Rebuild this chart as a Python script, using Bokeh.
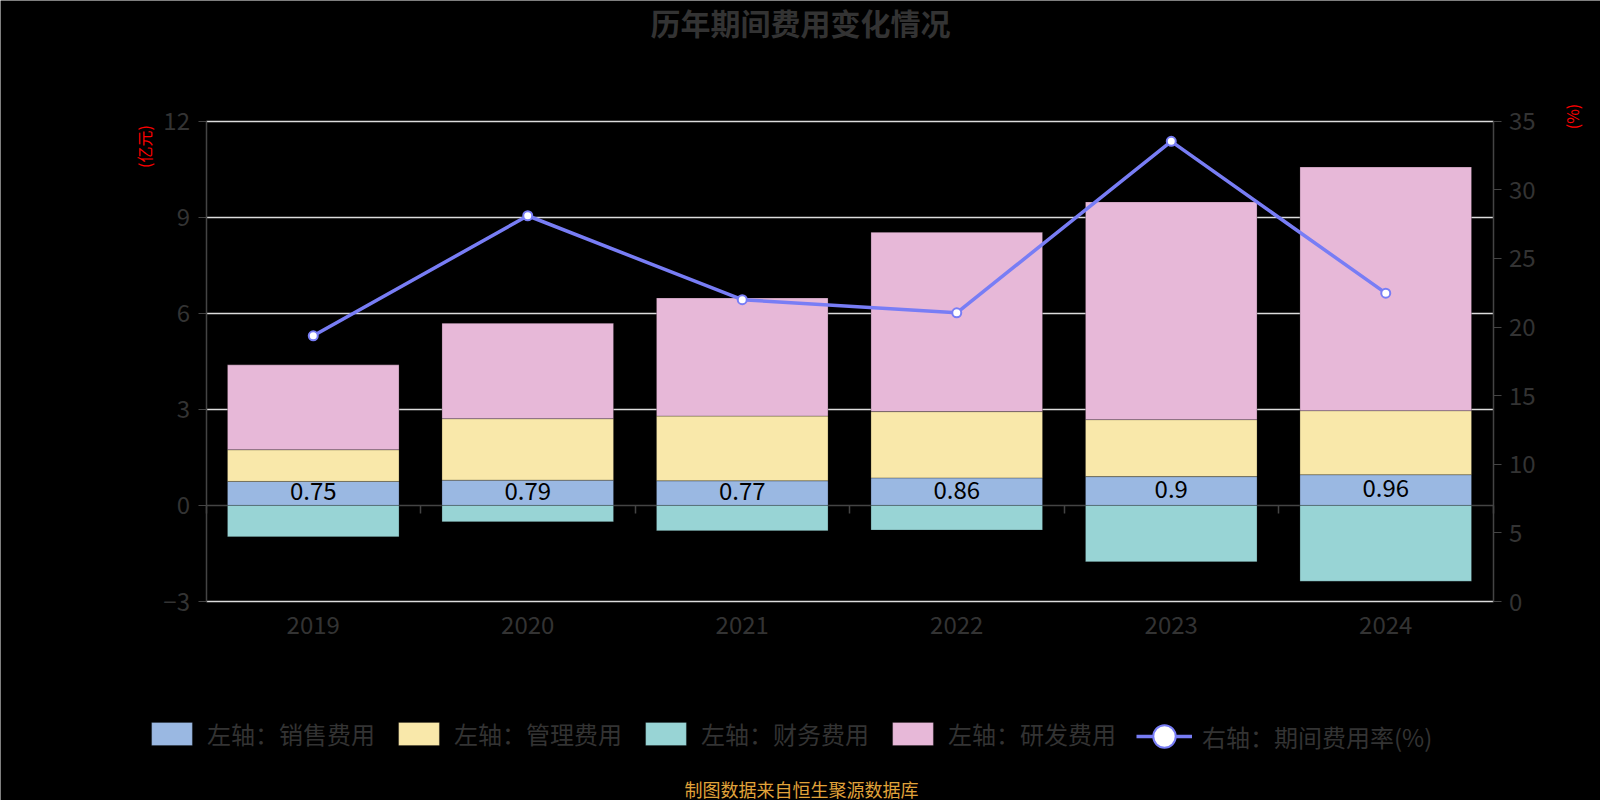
import math
import numpy as np

from bokeh.core.properties import value
from bokeh.embed import file_html
from bokeh.models import (ColumnDataSource, FixedTicker, Grid, Label, Legend,
                          LegendItem, LinearAxis, Range1d)
from bokeh.plotting import figure
from bokeh.resources import INLINE

# Data
years = ["2019", "2020", "2021", "2022", "2023", "2024"]
sales = [0.75, 0.79, 0.77, 0.86, 0.90, 0.96]          # 销售费用 (亿元)
admin = [0.99, 1.92, 2.02, 2.07, 1.78, 2.00]          # 管理费用
finance = [-0.98, -0.51, -0.79, -0.77, -1.76, -2.37]  # 财务费用
rnd = [2.65, 2.98, 3.69, 5.60, 6.80, 7.61]            # 研发费用
ratio = [19.36, 28.11, 21.99, 21.04, 33.53, 22.47]    # 期间费用率 (%)

left_ticks = [-3, 0, 3, 6, 9, 12]
right_ticks = [0, 5, 10, 15, 20, 25, 30, 35]

FONT = "Noto Sans CJK SC"
GREY = "#333333"
AXIS = "#444444"

# page size and where the plot area sits on it (pixels)
W, H = 1600, 800
PL, PR, PT, PB = 205.5, 1492.5, 120.7, 601.0


def outer(lo, hi, p_lo, p_hi, size, flip=False):
    # extend a data range so the frame can fill the whole canvas
    k = (p_hi - p_lo) / (hi - lo)
    if flip:
        return Range1d(lo - (size - p_hi) / k, hi + p_lo / k)
    return Range1d(lo - p_lo / k, hi + (size - p_hi) / k)


n = len(years)
x = np.arange(n) + 0.5
s = np.array(sales)
a = np.array(admin)
r = np.array(rnd)

src = ColumnDataSource(dict(
    x=x,
    sales_top=s,
    admin_top=s + a,
    rnd_top=s + a + r,
    fin=np.array(finance),
    zero=np.zeros(n),
    lab_y=s / 2,
    lab=[f"{v:g}" for v in sales],
    ratio=ratio,
))

p = figure(width=W, height=H,
           x_range=outer(0, n, PL, PR, W),
           y_range=outer(-3, 12, PT, PB, H, flip=True),
           x_axis_location=None, y_axis_location=None,
           output_backend="svg", toolbar_location=None,
           background_fill_color="black", border_fill_color="black",
           outline_line_color=None,
           min_border_left=0, min_border_right=0,
           min_border_top=0, min_border_bottom=0)
p.extra_y_ranges = {"pct": outer(0, 35, PT, PB, H, flip=True)}
p.grid.visible = False

tick_kw = dict(major_label_text_font=FONT, major_label_text_font_size="24px",
               major_label_text_color=GREY, minor_tick_line_color=None)

# grid lines (left axis)
p.add_layout(Grid(dimension=1, ticker=FixedTicker(ticks=[t for t in left_ticks if t != 0]),
                  cross_bounds=(0, n), grid_line_color="#dcdcdc",
                  grid_line_width=1.5))

# category axis on the zero line (ticks between categories)
zero_ax = LinearAxis(fixed_location=0, bounds=(0, n),
                     ticker=FixedTicker(ticks=list(range(n + 1))),
                     major_label_overrides={i: "" for i in range(n + 1)},
                     axis_line_color=AXIS, axis_line_width=1.5,
                     major_tick_line_color=AXIS, major_tick_line_width=1.5,
                     major_tick_in=0, major_tick_out=8, level="underlay",
                     **tick_kw)
p.add_layout(zero_ax, "below")

# year labels under the plot area
year_ax = LinearAxis(fixed_location=-3, ticker=FixedTicker(ticks=list(x)),
                     major_label_overrides={float(xx): yy for xx, yy in zip(x, years)},
                     axis_line_color=None, major_tick_line_color=None,
                     major_label_standoff=8, **tick_kw)
p.add_layout(year_ax, "below")

left_ax = LinearAxis(fixed_location=0, bounds=(-3, 12),
                     ticker=FixedTicker(ticks=left_ticks),
                     axis_line_color=AXIS, axis_line_width=1.5,
                     major_tick_line_color=AXIS, major_tick_in=0,
                     major_tick_out=8, major_label_standoff=8, **tick_kw)
p.add_layout(left_ax, "left")

right_ax = LinearAxis(y_range_name="pct", fixed_location=n, bounds=(0, 35),
                      ticker=FixedTicker(ticks=right_ticks),
                      axis_line_color=AXIS, axis_line_width=1.5,
                      major_tick_line_color=AXIS, major_tick_in=0,
                      major_tick_out=8, major_label_standoff=8, **tick_kw)
p.add_layout(right_ax, "right")

# stacked bars
bar_kw = dict(x="x", width=0.8, source=src, line_color="black",
              line_alpha=0.25, line_width=1)
r_sales = p.vbar(bottom="zero", top="sales_top", fill_color="#9ab8e2", **bar_kw)
r_admin = p.vbar(bottom="sales_top", top="admin_top", fill_color="#f9e8aa", **bar_kw)
r_fin = p.vbar(bottom="fin", top="zero", fill_color="#98d4d5", **bar_kw)
r_rnd = p.vbar(bottom="admin_top", top="rnd_top", fill_color="#e7b8d8", **bar_kw)

p.text(x="x", y="lab_y", text="lab", source=src, text_font=value(FONT),
       text_font_size="24px", text_color="black", text_align="center",
       text_baseline="middle", y_offset=-2)

# ratio line on the right axis
r_line = p.line("x", "ratio", source=src, y_range_name="pct",
                line_color="#787df5", line_width=3.5)
r_dot = p.scatter("x", "ratio", source=src, y_range_name="pct", size=9,
                  fill_color="white", line_color="#787df5", line_width=2)

# legends
leg_kw = dict(orientation="horizontal", padding=0, margin=0,
              border_line_color=None, background_fill_alpha=0,
              label_text_font=FONT, label_text_font_size="24px",
              label_text_color=GREY, label_standoff=10)
leg1 = Legend(items=[LegendItem(label="左轴：销售费用", renderers=[r_sales]),
                     LegendItem(label="左轴：管理费用", renderers=[r_admin]),
                     LegendItem(label="左轴：财务费用", renderers=[r_fin]),
                     LegendItem(label="左轴：研发费用", renderers=[r_rnd])],
              location=(146, 49), glyph_width=51, glyph_height=29,
              spacing=18, **leg_kw)
leg2 = Legend(items=[LegendItem(label="右轴：期间费用率(%)",
                                renderers=[r_line, r_dot])],
              location=(1136, 34), glyph_width=56, glyph_height=60, **leg_kw)
p.add_layout(leg1)
p.add_layout(leg2)

# title, units and source note (screen px from the bottom-left corner)
txt_kw = dict(x_units="screen", y_units="screen", text_align="center",
              text_baseline="middle", text_font=FONT)
p.add_layout(Label(x=800, y=H - 21, text="历年期间费用变化情况",
                   text_font_size="30px", text_font_style="bold",
                   text_color=GREY, **txt_kw))
p.add_layout(Label(x=143, y=H - 146, text="(亿元)", angle=math.pi / 2,
                   text_font_size="16px", text_color="red", **txt_kw))
p.add_layout(Label(x=1571, y=H - 116, text="(%)", angle=math.pi / 2,
                   text_font_size="16px", text_color="red", **txt_kw))
p.add_layout(Label(x=801, y=12, text="制图数据来自恒生聚源数据库",
                   text_font_size="18px", text_color="#e0a33a", **txt_kw))

html = file_html(p, INLINE, title="历年期间费用变化情况")
html = html.replace("<body>", '<body style="background-color:#000000;">', 1)
open("out.html", "w").write(html)
